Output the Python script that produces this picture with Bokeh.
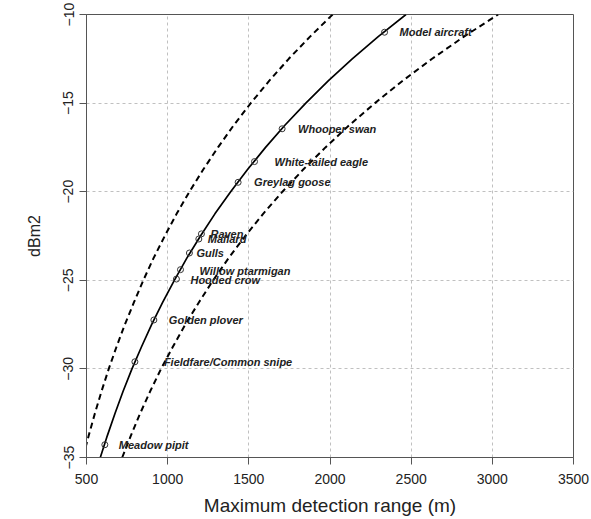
from bokeh.plotting import figure
from bokeh.models import ColumnDataSource, FixedTicker, Range1d
from bokeh.core.properties import value
from bokeh.embed import file_html
from bokeh.resources import INLINE

# --- data ---
species = ["Model aircraft", "Whooper swan", "White-tailed eagle", "Greylag goose",
           "Raven", "Mallard", "Gulls", "Willow ptarmigan", "Hooded crow",
           "Golden plover", "Fieldfare/Common snipe", "Meadow pipit"]
range_m = [2336, 1705, 1535, 1434, 1208, 1192, 1134, 1079, 1054, 915, 798, 613]
dbm2 = [-11.0, -16.45, -18.3, -19.47, -22.38, -22.67, -23.46, -24.4, -24.93, -27.24, -29.6, -34.28]

curve_db = [-35, -33.75, -32.5, -31.25, -30, -28.75, -27.5, -26.25, -25, -23.75, -22.5,
            -21.25, -20, -18.75, -17.5, -16.25, -15, -13.75, -12.5, -11.25, -10]
curve_mid = [585, 629, 676, 726, 780, 839, 901, 969, 1041, 1118, 1202,
             1291, 1388, 1492, 1603, 1722, 1851, 1989, 2137, 2297, 2468]
curve_low = [478, 514, 552, 593, 637, 685, 736, 792, 850, 913, 982,
             1055, 1134, 1219, 1310, 1407, 1512, 1625, 1746, 1877, 2016]
curve_high = [720, 774, 831, 893, 959, 1032, 1108, 1192, 1280, 1375, 1478,
              1588, 1707, 1835, 1972, 2118, 2277, 2446, 2629, 2825, 3036]

x_ticks = [500, 1000, 1500, 2000, 2500, 3000, 3500]
y_ticks = [-35, -30, -25, -20, -15, -10]

# label pixel offsets (layout only)
label_dx = [15, 16, 20, 16, 9, 9, 7, 19, 14, 15, 29, 14]
label_dy = [0, 0, 0, 0, 0, 0, 0, 1, 1, 0, 0, 0]

FONT = "Liberation Sans"

p = figure(width=591, height=519, output_backend="svg", toolbar_location=None,
           x_range=Range1d(500, 3500), y_range=Range1d(-35, -10),
           min_border_left=86, min_border_right=18, min_border_top=14,
           min_border_bottom=62)

p.line(curve_mid, curve_db, line_color="black", line_width=1.7)
p.line(curve_low, curve_db, line_color="black", line_width=2, line_dash="6 4")
p.line(curve_high, curve_db, line_color="black", line_width=2, line_dash="6 4")

src = ColumnDataSource(dict(x=range_m, y=dbm2, name=species, dx=label_dx, dy=label_dy))
p.scatter("x", "y", source=src, marker="circle", size=6, fill_color=None,
          line_color="#333333", line_width=1)
p.text("x", "y", text="name", source=src, x_offset="dx", y_offset="dy",
       text_font=value(FONT), text_font_style="bold italic", text_font_size="11px",
       text_color="#222222", text_baseline="middle", text_align="left")

p.xaxis.ticker = FixedTicker(ticks=x_ticks)
p.yaxis.ticker = FixedTicker(ticks=y_ticks)
p.xaxis.axis_label = "Maximum detection range (m)"
p.yaxis.axis_label = "dBm2"
for ax in (p.xaxis, p.yaxis):
    ax.major_label_text_font = FONT
    ax.major_label_text_font_size = "14px"
    ax.major_label_text_color = "#222222"
    ax.axis_label_text_font = FONT
    ax.axis_label_text_font_style = "normal"
    ax.axis_label_text_color = "#222222"
    ax.axis_line_color = "#555555"
    ax.major_tick_line_color = "#555555"
    ax.major_tick_out = 7
    ax.major_tick_in = 0
    ax.minor_tick_line_color = None
p.xaxis.axis_label_text_font_size = "19px"
p.yaxis.axis_label_text_font_size = "16px"
p.yaxis.major_label_orientation = "vertical"
p.xaxis.major_label_standoff = 9
p.yaxis.major_label_standoff = 6
p.xaxis.axis_label_standoff = 8
p.yaxis.axis_label_standoff = 18

p.xgrid.grid_line_color = "#c0c0c0"
p.ygrid.grid_line_color = "#c0c0c0"
p.xgrid.grid_line_dash = "3 3"
p.ygrid.grid_line_dash = "3 3"
p.outline_line_color = "#555555"
p.outline_line_width = 1
p.background_fill_color = "white"
p.border_fill_color = "white"

open("out.html", "w").write(file_html(p, INLINE))
